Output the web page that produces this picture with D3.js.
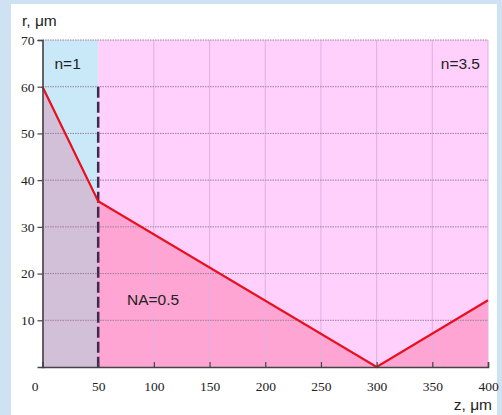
<!DOCTYPE html>
<html><head><meta charset="utf-8">
<script src="https://cdn.jsdelivr.net/npm/d3@7"></script>
<style>body{margin:0;background:#cfe2f3;}svg{display:block}</style>
</head><body>
<svg id="c" width="502" height="415"></svg>
<script>
const zTicks = [0,50,100,150,200,250,300,350,400];
const rTicks = [10,20,30,40,50,60,70];
const rayZ = [0,50,300,400];
const rayR = [60,35.5,0,14.3];
const interfaceZ = 50;
const regions = [
  {label:"n=1", z0:0, z1:50},
  {label:"n=3.5", z0:50, z1:400}
];
const naLabel = "NA=0.5";

const svg = d3.select("#c");
const x = d3.scaleLinear().domain([0,400]).range([42.5,488]);
const y = d3.scaleLinear().domain([0,70]).range([367,40]);

svg.append("rect").attr("x",11).attr("y",4).attr("width",486).attr("height",411).attr("fill","#ffffff");

// regions
svg.append("rect").attr("x",x(0)).attr("y",y(70)).attr("width",x(50)-x(0)).attr("height",y(0)-y(70)).attr("fill","#c9e9f9");
svg.append("rect").attr("x",x(50)).attr("y",y(70)).attr("width",x(400)-x(50)).attr("height",y(0)-y(70)).attr("fill","#ffd0fc");

const pts = rayZ.map((z,i)=>[z,rayR[i]]);
const area = d3.area().x(d=>x(d[0])).y0(y(0)).y1(d=>y(d[1]));
svg.append("path").datum(pts.slice(0,2)).attr("d",area).attr("fill","#d2bfd8");
svg.append("path").datum(pts.slice(1)).attr("d",area).attr("fill","#ffa5d3");

// grid
const g = svg.append("g");
zTicks.filter(z=>z>50).forEach(z=>{
  g.append("line").attr("x1",x(z)).attr("x2",x(z)).attr("y1",y(0)).attr("y2",y(70))
   .attr("stroke","#e3aee3").attr("stroke-width",1);
});
rTicks.forEach(r=>{
  g.append("line").attr("x1",x(0)).attr("x2",x(400)).attr("y1",y(r)).attr("y2",y(r))
   .attr("stroke","#9a7f9a").attr("stroke-width",1).attr("stroke-dasharray","1.5,1");
});

// dashed interface
svg.append("line").attr("x1",x(interfaceZ)).attr("x2",x(interfaceZ)).attr("y1",y(60)).attr("y2",y(0))
  .attr("stroke","#3d2a4e").attr("stroke-width",2.5).attr("stroke-dasharray","11,4");

// ray
svg.append("path").datum(pts).attr("d",d3.line().x(d=>x(d[0])).y(d=>y(d[1])))
  .attr("fill","none").attr("stroke","#e8101e").attr("stroke-width",2.2);

// axes
const xa = svg.append("g").attr("transform",`translate(0,${y(0)})`)
  .call(d3.axisBottom(x).tickValues(zTicks).tickSize(-5).tickPadding(14));
const ya = svg.append("g").attr("transform",`translate(${x(0)},0)`)
  .call(d3.axisLeft(y).tickValues(rTicks).tickSize(5).tickPadding(3));
[xa,ya].forEach(a=>{
  a.select(".domain").attr("stroke","#444").attr("stroke-width",1.6);
  a.selectAll(".tick line").attr("stroke","#444").attr("stroke-width",1.2);
  a.selectAll("text").attr("font-family","Liberation Serif, serif").attr("font-size",13.5).attr("fill","#222");
});
xa.selectAll(".tick").filter(d=>d===0).select("text").attr("dx",-8);
xa.selectAll(".tick").filter(d=>d===0).select("line").remove();

const sans = "Liberation Sans, Arial, sans-serif";
const fs = 15.5;
svg.append("text").attr("x",22).attr("y",26).attr("font-family",sans).attr("font-size",fs).attr("fill","#222").text("r, μm");
svg.append("text").attr("x",492).attr("y",410).attr("text-anchor","end").attr("font-family",sans).attr("font-size",fs).attr("fill","#222").text("z, μm");
svg.append("text").attr("x",x(regions[0].z0)+12).attr("y",69).attr("font-family",sans).attr("font-size",fs).attr("fill","#222").text(regions[0].label);
svg.append("text").attr("x",x(regions[1].z1)-8).attr("y",69).attr("text-anchor","end").attr("font-family",sans).attr("font-size",fs).attr("fill","#222").text(regions[1].label);
svg.append("text").attr("x",127).attr("y",305).attr("font-family",sans).attr("font-size",fs).attr("fill","#222").text(naLabel);
</script>
</body></html>
